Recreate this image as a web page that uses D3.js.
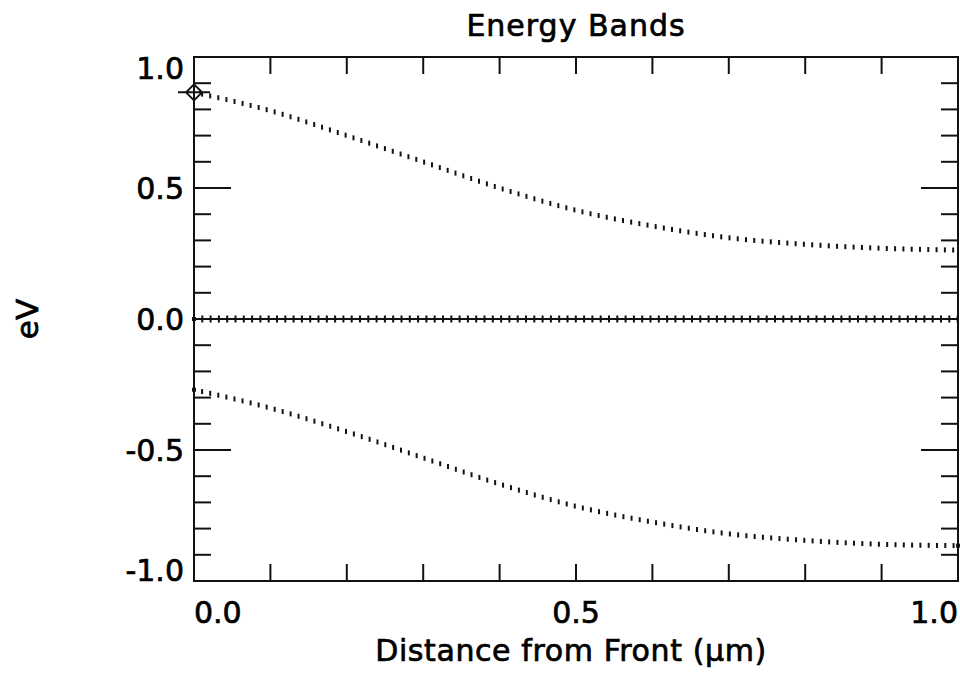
<!DOCTYPE html>
<html>
<head>
<meta charset="utf-8">
<script src="https://cdn.jsdelivr.net/npm/d3@7"></script>
<style>
  body { margin: 0; background: #fff; }
  text { font-family: "DejaVu Sans", sans-serif; fill: #000; stroke: #000; stroke-width: 0.7px; }
</style>
</head>
<body>
<div id="chart"></div>
<script>
// band edges, x in µm
const distance = [0, 0.1, 0.2, 0.3, 0.4, 0.5, 0.6, 0.7, 0.8, 0.9, 1.0]
const conductionBand = [0.865, 0.795, 0.70, 0.60, 0.50, 0.415, 0.355, 0.31, 0.285, 0.27, 0.263]
const valenceBand = [-0.27, -0.34, -0.43, -0.53, -0.63, -0.715, -0.775, -0.82, -0.845, -0.86, -0.865]
const fermiLevel = [0, 0, 0, 0, 0, 0, 0, 0, 0, 0, 0]

const xTickValues = [0, 0.5, 1.0]
const xTickLabels = ['0.0', '0.5', '1.0']
const yTickValues = [1.0, 0.5, 0.0, -0.5, -1.0]
const yTickLabels = ['1.0', '0.5', '0.0', '-0.5', '-1.0']

const title = 'Energy Bands'
const xTitle = 'Distance from Front (\u00b5m)'
const yTitle = 'eV'

function renderChart(){
	const width = 960
	const height = 679
	const margin = {top:57, right:2, bottom:98, left:194}
	const plotW = width - margin.left - margin.right
	const plotH = height - margin.top - margin.bottom

	const x = d3.scaleLinear().domain([0,1]).range([margin.left, margin.left+plotW])
	const y = d3.scaleLinear().domain([-1,1]).range([margin.top+plotH, margin.top])

	const svg = d3.select('#chart').append('svg')
		.attr('width',width)
		.attr('height',height)

	// ticks: minor every 0.1, long ones on y at the labels
	const minor = d3.range(-10,11).map(d => d/10)
	const xMinor = d3.range(1,10).map(d => d/10)
	const ticks = svg.append('g').attr('stroke','#111').attr('stroke-width',2)
	xMinor.forEach(v => {
		ticks.append('line').attr('x1',x(v)).attr('x2',x(v)).attr('y1',y(1)).attr('y2',y(1)+17)
		ticks.append('line').attr('x1',x(v)).attr('x2',x(v)).attr('y1',y(-1)).attr('y2',y(-1)-17)
	})
	minor.forEach(v => {
		const isMajor = yTickValues.some(t => Math.abs(t-v) < 1e-9)
		const len = isMajor ? 37 : 17
		ticks.append('line').attr('x1',x(0)).attr('x2',x(0)+len).attr('y1',y(v)).attr('y2',y(v))
		ticks.append('line').attr('x1',x(1)).attr('x2',x(1)-len).attr('y1',y(v)).attr('y2',y(v))
	})

	svg.append('rect')
		.attr('x',x(0)).attr('y',y(1))
		.attr('width',x(1)-x(0)).attr('height',y(-1)-y(1))
		.attr('fill','none').attr('stroke','#111').attr('stroke-width',2)

	// tick labels
	svg.selectAll('.xlab').data(xTickValues).enter().append('text')
		.attr('class','xlab')
		.attr('x',d => x(d))
		.attr('y',623)
		.attr('font-size',30)
		.attr('text-anchor',(d,i) => i===0 ? 'start' : (i===xTickValues.length-1 ? 'end' : 'middle'))
		.text((d,i) => xTickLabels[i])

	svg.selectAll('.ylab').data(yTickValues).enter().append('text')
		.attr('class','ylab')
		.attr('x',184)
		.attr('y',(d,i) => i===0 ? y(d)+22 : (i===yTickValues.length-1 ? y(d) : y(d)+11))
		.attr('font-size',30)
		.attr('text-anchor','end')
		.text((d,i) => yTickLabels[i])

	svg.append('text')
		.attr('x',x(0.5)).attr('y',36)
		.attr('font-size',30)
		.attr('letter-spacing',1)
		.attr('text-anchor','middle')
		.text(title)
	svg.append('text')
		.attr('x',x(0.5)-5).attr('y',661)
		.attr('font-size',30)
		.attr('letter-spacing',0.6)
		.attr('text-anchor','middle')
		.text(xTitle)
	svg.append('text')
		.attr('transform',`translate(38,${y(0)}) rotate(-90)`)
		.attr('font-size',31)
		.attr('text-anchor','middle')
		.text(yTitle)

	const line = d3.line()
		.x((d,i) => x(distance[i]))
		.y(d => y(d))
		.curve(d3.curveMonotoneX)

	// dotted series: short vertical dashes placed along the curve
	function dotted(values, dashH){
		const path = svg.append('path')
			.attr('d',line(values))
			.attr('fill','none')
			.attr('stroke','none')
		const node = path.node()
		const total = node.getTotalLength()
		const pts = d3.range(0,total,8.3).map(l => node.getPointAtLength(l))
		svg.append('g').selectAll('rect').data(pts).enter().append('rect')
			.attr('x',p => p.x-1)
			.attr('y',p => p.y-dashH/2)
			.attr('width',2)
			.attr('height',dashH)
			.attr('fill','#111')
	}

	svg.append('path')
		.attr('d',line(fermiLevel))
		.attr('fill','none')
		.attr('stroke','#111')
		.attr('stroke-width',2)
	dotted(fermiLevel,7)
	dotted(conductionBand,5)
	dotted(valenceBand,5)

	// end markers
	const cx = x(distance[0]), cy = y(conductionBand[0])
	svg.append('path')
		.attr('d',`M${cx-8},${cy}L${cx},${cy-8}L${cx+8},${cy}L${cx},${cy+8}Z M${cx-16},${cy}H${cx+16}`)
		.attr('fill','none').attr('stroke','#111').attr('stroke-width',2)
	const last = distance.length-1
	const ends = [[distance[0],fermiLevel[0]],[distance[0],valenceBand[0]],[distance[last],valenceBand[last]]]
	svg.selectAll('.endpt').data(ends).enter().append('rect')
		.attr('class','endpt')
		.attr('x',d => x(d[0])-2)
		.attr('y',d => y(d[1])-2)
		.attr('width',4).attr('height',4)
		.attr('fill','#111')
}

renderChart()
</script>
</body>
</html>
